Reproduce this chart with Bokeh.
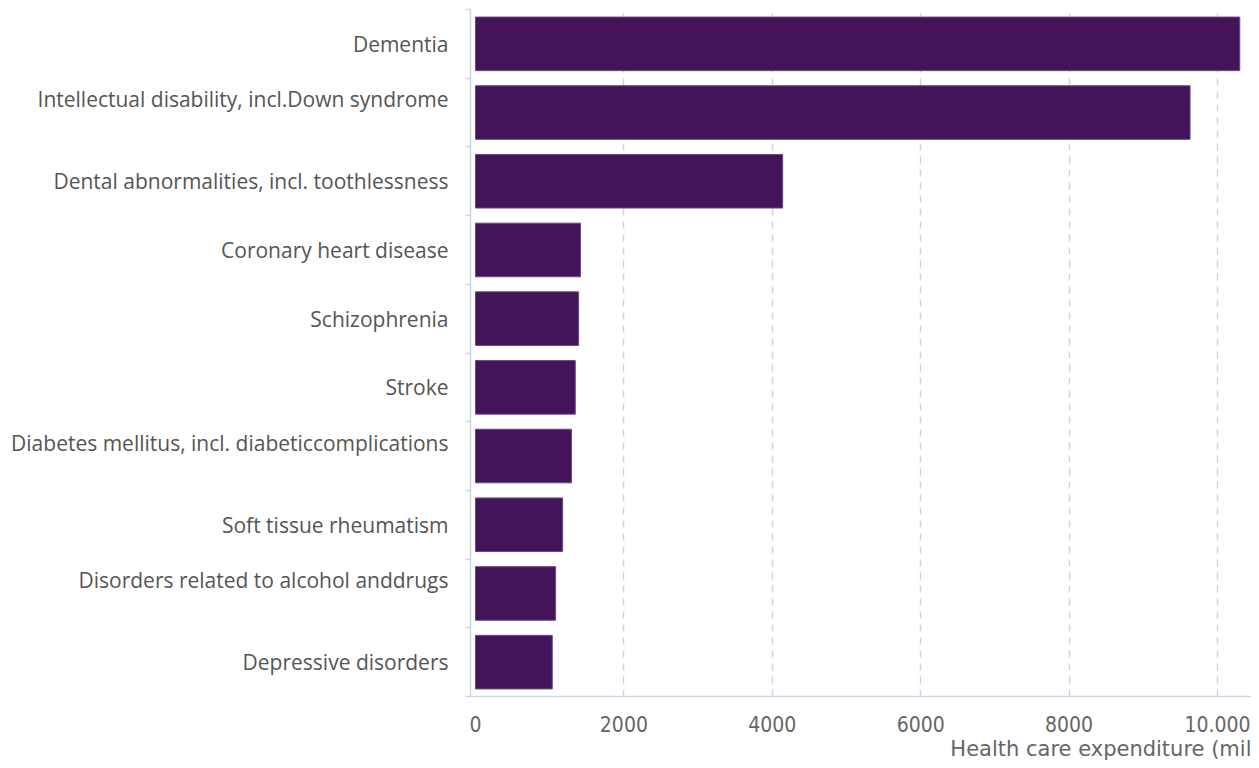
from bokeh.plotting import figure
from bokeh.models import Range1d, FixedTicker, Title
from bokeh.embed import file_html
from bokeh.resources import INLINE

categories = [
    "Dementia",
    "Intellectual disability, incl.Down syndrome",
    "Dental abnormalities, incl. toothlessness",
    "Coronary heart disease",
    "Schizophrenia",
    "Stroke",
    "Diabetes mellitus, incl. diabeticcomplications",
    "Soft tissue rheumatism",
    "Disorders related to alcohol anddrugs",
    "Depressive disorders",
]
values = [10300, 9630, 4140, 1415, 1390, 1345, 1295, 1175, 1080, 1035]
x_ticks = [0, 2000, 4000, 6000, 8000, 10000]
x_tick_labels = ["0", "2000", "4000", "6000", "8000", "10.000"]
axis_title = "Health care expenditure (mil"
# labels that were wrapped onto two lines in the original (sit higher in their band)
wrapped = ["Intellectual disability, incl.Down syndrome",
           "Diabetes mellitus, incl. diabeticcomplications",
           "Disorders related to alcohol anddrugs"]

LABEL_FONT = "'Open Sans', sans-serif"
TICK_FONT = "'DejaVu Sans Condensed', 'Liberation Sans Narrow', sans-serif"
TITLE_FONT = "'DejaVu Sans', sans-serif"
GRID = "#c9d6e6"

n = len(categories)
ypos = [n - 1 - i for i in range(n)]          # first category at top
label_pos = [y + (0.19 if c in wrapped else 0.0) for y, c in zip(ypos, categories)]
boundaries = [k - 0.5 for k in range(n + 1)]

p = figure(
    width=1251, height=760,
    y_range=Range1d(-0.5, n - 0.5),
    x_range=Range1d(-67, 10458),
    output_backend="svg", toolbar_location=None,
    min_border_top=9, min_border_right=0, min_border_bottom=0, min_border_left=470,
)
p.outline_line_color = None

p.hbar(y=ypos, right=values, left=0, height=0.78,
       fill_color="#43145A", line_color="#6b4a80", line_width=1)

# y axis
ya = p.yaxis[0]
ya.ticker = FixedTicker(ticks=label_pos, minor_ticks=boundaries)
ya.major_label_overrides = {lp: c for lp, c in zip(label_pos, categories)}
ya.axis_line_color = GRID
ya.axis_line_width = 1.5
ya.major_tick_line_color = None
ya.major_tick_out = 0
ya.major_tick_in = 0
ya.minor_tick_line_color = GRID
ya.minor_tick_line_width = 1.5
ya.minor_tick_out = 5
ya.minor_tick_in = 0
ya.major_label_standoff = 17
ya.major_label_text_font = LABEL_FONT
ya.major_label_text_font_size = "21px"
ya.major_label_text_color = "#555555"

# x axis
xa = p.xaxis[0]
xa.ticker = FixedTicker(ticks=x_ticks)
xa.major_label_overrides = {t: l for t, l in zip(x_ticks, x_tick_labels)}
xa.axis_line_color = GRID
xa.axis_line_width = 1.5
xa.major_tick_line_color = None
xa.major_tick_out = 0
xa.major_tick_in = 0
xa.minor_tick_line_color = None
xa.major_label_standoff = 19
xa.major_label_text_font = TICK_FONT
xa.major_label_text_font_size = "21px"
xa.major_label_text_color = "#666666"

p.ygrid.grid_line_color = None
p.xgrid.ticker = FixedTicker(ticks=[2000, 4000, 6000, 8000, 10000])
p.xgrid.grid_line_color = GRID
p.xgrid.grid_line_width = 1.5
p.xgrid.grid_line_dash = "7 6"

t = Title(text=axis_title, align="right", standoff=0, offset=0,
          text_font=TITLE_FONT, text_font_size="21px",
          text_font_style="normal", text_color="#666666")
p.add_layout(t, "below")

open("out.html", "w").write(file_html(p, INLINE))
